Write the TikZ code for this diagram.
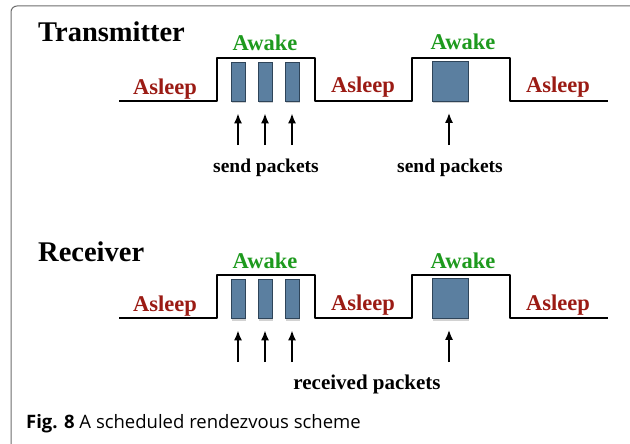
\documentclass[tikz,border=0pt]{standalone}
\usepackage{fontspec}
\setmainfont{Liberation Serif}
\newfontfamily\capfont{Open Sans}
\usetikzlibrary{shadows,arrows.meta}
\definecolor{sleepred}{HTML}{9B1B14}
\definecolor{awakegreen}{HTML}{1E9A1E}
\definecolor{pktblue}{HTML}{5B7FA0}
\definecolor{pktedge}{HTML}{2E4459}
\definecolor{framegray}{HTML}{6E6E6E}
\begin{document}
\begin{tikzpicture}[x=1pt,y=-1pt,
  wave/.style={line width=2pt, line join=round},
  pkt/.style={draw=pktedge, line width=0.8pt, fill=pktblue, inner sep=0pt,
    minimum width=14pt, minimum height=39pt,
    drop shadow={opacity=0.35, shadow xshift=1.2pt, shadow yshift=-2.5pt}},
  bigpkt/.style={pkt, minimum width=36pt, minimum height=40pt},
  arr/.style={line width=1.6pt, -{Latex[length=10pt,width=8pt]}},
  sleep/.style={font=\bfseries\fontsize{22.5}{24}\selectfont, text=sleepred, anchor=base, inner sep=0pt},
  awake/.style={font=\bfseries\fontsize{22.5}{24}\selectfont, text=awakegreen, anchor=base, inner sep=0pt},
  title/.style={font=\bfseries\fontsize{28.5}{30}\selectfont, anchor=base west, inner sep=0pt},
  plabel/.style={font=\bfseries\fontsize{19.5}{21}\selectfont, anchor=base, inner sep=0pt},
]
\clip (0,0) rectangle (630,444);
\fill[white] (0,0) rectangle (630,444);
% frame
\draw[framegray, line width=1pt, rounded corners=6pt] (11,470) -- (11,6) -- (660,6);

% ---------- Transmitter ----------
\node[title] (tt) at (38,42) {Transmitter};
\draw[wave] (119,101) -- (217,101) -- (217,58) -- (315,58) -- (315,101)
  -- (412,101) -- (412,58) -- (510,58) -- (510,101) -- (608,101);
\node[awake] (ta1) at (265,51) {Awake};
\node[awake] (ta2) at (463,50) {Awake};
\node[sleep] (ts1) at (165,95) {Asleep};
\node[sleep] (ts2) at (363,93) {Asleep};
\node[sleep] (ts3) at (558,93) {Asleep};
\node[pkt] (tp1) at (238,81.5) {};
\node[pkt] (tp2) at (265,81.5) {};
\node[pkt] (tp3) at (292,81.5) {};
\node[bigpkt] (tp4) at (450,81) {};
\coordinate (tc1) at (238,145);
\coordinate (tc2) at (265,145);
\coordinate (tc3) at (292,145);
\coordinate (tc4) at (449,145);
\draw[arr, shorten >=12pt] (tc1) -- (tp1.south);
\draw[arr, shorten >=12pt] (tc2) -- (tp2.south);
\draw[arr, shorten >=12pt] (tc3) -- (tp3.south);
\draw[arr, shorten >=11.5pt] (tc4) -- (tp4.south -| tc4);
\node[plabel] (tl1) at (266,172) {send packets};
\node[plabel] (tl2) at (450,172) {send packets};

% ---------- Receiver ----------
\node[title] (rt) at (38,261.5) {Receiver};
\draw[wave] (119,318) -- (217,318) -- (217,275) -- (315,275) -- (315,318)
  -- (412,318) -- (412,275) -- (510,275) -- (510,318) -- (608,318);
\node[awake] (ra1) at (265,268) {Awake};
\node[awake] (ra2) at (463,268) {Awake};
\node[sleep] (rs1) at (165,311.5) {Asleep};
\node[sleep] (rs2) at (363,310) {Asleep};
\node[sleep] (rs3) at (558,310) {Asleep};
\node[pkt] (rp1) at (238,298.5) {};
\node[pkt] (rp2) at (265,298.5) {};
\node[pkt] (rp3) at (292,298.5) {};
\node[bigpkt] (rp4) at (450,298) {};
\coordinate (rc1) at (238,362);
\coordinate (rc2) at (265,362);
\coordinate (rc3) at (292,362);
\coordinate (rc4) at (449,362);
\draw[arr, shorten >=12pt] (rc1) -- (rp1.south);
\draw[arr, shorten >=12pt] (rc2) -- (rp2.south);
\draw[arr, shorten >=12pt] (rc3) -- (rp3.south);
\draw[arr, shorten >=11.5pt] (rc4) -- (rp4.south -| rc4);
\node[plabel, font=\bfseries\fontsize{21}{23}\selectfont] (rl) at (367,389) {received packets};

% ---------- caption ----------
\node[anchor=base west, inner sep=0pt, font=\capfont\fontsize{18.5}{20}\selectfont] (cap) at (26,428)
  {\textbf{Fig. 8} A scheduled rendezvous scheme};
\end{tikzpicture}
\end{document}
